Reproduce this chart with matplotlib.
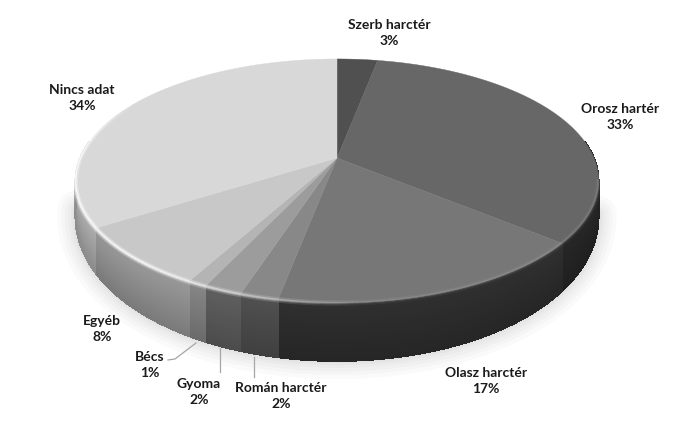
import numpy as np
import matplotlib.pyplot as plt
from matplotlib.collections import LineCollection, PolyCollection
from matplotlib.patches import Polygon

plt.rcParams['font.family'] = ['Lato', 'DejaVu Sans']

# Slices clockwise from 12 o'clock
labels = ['Szerb harctér', 'Orosz hartér', 'Olasz harctér', 'Román harctér',
          'Gyoma', 'Bécs', 'Egyéb', 'Nincs adat']
shares = [3, 33, 17, 2, 2, 1, 8, 34]
top_colors = ['#505050', '#676767', '#777777', '#888888',
              '#9c9c9c', '#b4b4b4', '#c8c8c8', '#d8d8d8']
wall_colors = ['#262626', '#242424', '#2c2c2c', '#4a4a4a',
               '#585858', '#7c7c7c', '#8e8e8e', '#a2a2a2']
label_x = [389, 620, 486, 281, 199, 150, 102, 82]
label_y = [33, 117, 381, 396, 392, 365, 329, 98]

# Projection of the pie disc (apex pixel, radii, perspective)
APEX_X, APEX_Y = 337, 158
A, B, K = 257, 117.7, 0.1885


def rim(theta):
    # theta in degrees, clockwise from the top
    t = np.radians(theta)
    x, y = np.sin(t), np.cos(t)
    d = 1 + K * y
    return APEX_X + A * x / d, APEX_Y - B * y / d


def wall_depth(theta):
    y = np.cos(np.radians(theta))
    return 30 + 28 * np.clip(-y, -0.2, 1)


def shade(color, f):
    rgb = np.array(plt.matplotlib.colors.to_rgb(color))
    return tuple(np.clip(rgb * f, 0, 1))


fig = plt.figure(figsize=(6.98, 4.34), dpi=100)
ax = fig.add_axes([0, 0, 1, 1])
ax.set_xlim(0, 698)
ax.set_ylim(434, 0)
ax.axis('off')

edges = np.concatenate([[0], np.cumsum(shares)]) / sum(shares) * 360

# Soft shadow below the wall
th = np.linspace(100, 262, 200)
rx, ry = rim(th)
ry = ry + wall_depth(th)
for lw in [26, 20, 15, 10, 6, 3]:
    ax.plot(rx, ry, color='black', lw=lw, alpha=0.02, zorder=1,
            solid_capstyle='round')

# Side wall, strip by strip with a vertical gradient
bands = np.linspace(0, 1, 25)
quads, cols = [], []
for i in range(len(shares)):
    a0, a1 = max(edges[i], 82), min(edges[i + 1], 278)
    if a1 <= a0:
        continue
    steps = np.arange(a0, a1 + 0.5, 0.5)
    steps[-1] = a1
    for s0, s1 in zip(steps[:-1], steps[1:]):
        x0, y0 = rim(s0)
        x1, y1 = rim(s1)
        d0, d1 = wall_depth(s0), wall_depth(s1)
        for b0, b1 in zip(bands[:-1], bands[1:]):
            quads.append([(x0, y0 + b0 * d0), (x1, y1 + b0 * d1),
                          (x1, y1 + b1 * d1), (x0, y0 + b1 * d0)])
            cols.append(shade(wall_colors[i], 1.08 - 0.22 * b0))
# no antialiasing here, the thin strips give a moire otherwise
ax.add_collection(PolyCollection(quads, facecolors=cols, edgecolors='face',
                                 linewidths=0.5, antialiased=False, zorder=2))

# Top face
for i in range(len(shares)):
    th = np.linspace(edges[i], edges[i + 1], 120)
    rx, ry = rim(th)
    pts = np.column_stack([np.r_[APEX_X, rx], np.r_[APEX_Y, ry]])
    ax.add_patch(Polygon(pts, closed=True, facecolor=top_colors[i],
                         edgecolor=top_colors[i], linewidth=0.3, zorder=3))

# Bevel along the front rim: bright on the left, fading out to the right
th = np.arange(100, 300, 1.0)
rx, ry = rim(th)
segs = [[(rx[j], ry[j]), (rx[j + 1], ry[j + 1])] for j in range(len(th) - 1)]
alpha = np.clip((th[:-1] - 175) / 45, 0, 1) * np.clip((298 - th[:-1]) / 25, 0, 1)
alpha = 0.1 + 0.6 * alpha
ax.add_collection(LineCollection(segs, colors=[(1, 1, 1, v * 0.45) for v in alpha],
                                 linewidths=4.0, zorder=4))
ax.add_collection(LineCollection(segs, colors=[(1, 1, 1, v) for v in alpha],
                                 linewidths=1.8, zorder=4))

# Leader lines
ax.plot([168, 175, 196], [360, 359, 343], color='#a6a6a6', lw=0.9, zorder=5)
ax.plot([220, 220], [348, 372], color='#a6a6a6', lw=0.9, zorder=5)
ax.plot([254, 254], [357, 377], color='#a6a6a6', lw=0.9, zorder=5)

for name, share, x, y in zip(labels, shares, label_x, label_y):
    ax.text(x, y, f'{name}\n{share}%', ha='center', va='center', fontsize=10,
            fontweight='bold', color='#1a1a1a', linespacing=1.45, zorder=6)

fig.savefig('out.png', dpi=100)
